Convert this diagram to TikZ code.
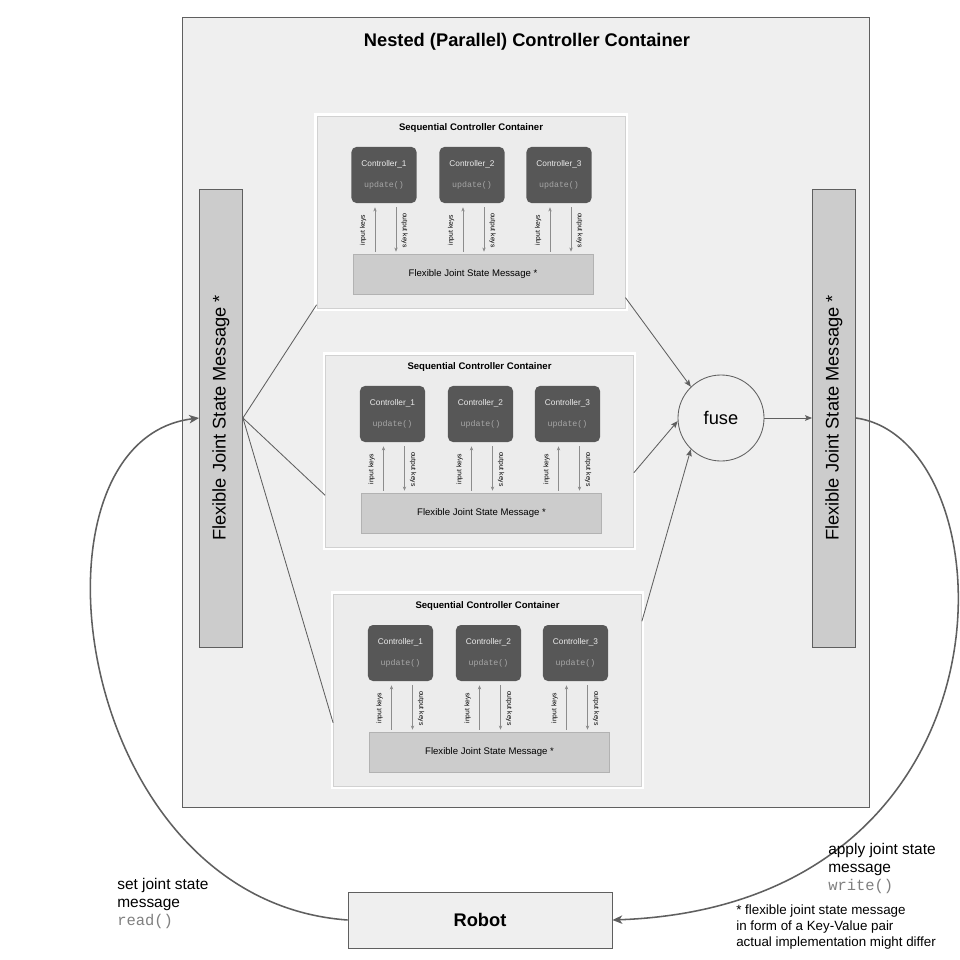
\documentclass[tikz,border=0pt]{standalone}
\usepackage{fontspec}
\setmainfont{Liberation Sans}
\setmonofont{Liberation Mono}
\usetikzlibrary{arrows.meta,calc}

\definecolor{nestgray}{HTML}{EFEFEF}
\definecolor{msggray}{HTML}{CCCCCC}
\definecolor{linegray}{HTML}{5F5F5F}
\definecolor{seqgray}{HTML}{ECECEC}
\definecolor{ctlgray}{HTML}{575757}

\tikzset{
  nestbox/.style={draw=linegray, fill=nestgray, line width=0.6pt, minimum width=17.15cm, minimum height=19.725cm},
  barmsg/.style={draw=linegray, fill=msggray, line width=0.6pt, minimum width=1.075cm, minimum height=11.45cm, inner sep=0pt, font=\fontsize{13}{15}\selectfont},
  seqbox/.style={draw=black!18, fill=seqgray, line width=0.5pt, preaction={draw=white, line width=4pt}, minimum width=7.7cm, minimum height=4.8cm},
  ctlbox/.style={fill=ctlgray, rounded corners=3.5pt, minimum width=1.625cm, minimum height=1.4cm, align=center, text=black!8, font=\fontsize{5.9}{7}\selectfont},
  fjsmbox/.style={draw=black!30, fill=msggray, minimum width=6cm, minimum height=1cm, font=\fontsize{6.8}{8}\selectfont},
  keyline/.style={draw=black!45, line width=0.4pt, -{Stealth[length=3pt,width=2.4pt]}},
  keylbl/.style={font=\fontsize{4.8}{6}\selectfont, inner sep=0pt},
  conn/.style={draw=linegray, line width=0.6pt},
  loopline/.style={draw=linegray, line width=1.1pt},
  lbl/.style={align=left, inner sep=0pt, font=\fontsize{11}{12.8}\selectfont},
  note/.style={align=left, inner sep=0pt, font=\fontsize{9.5}{11.3}\selectfont}
}

\begin{document}
\begin{tikzpicture}[x=0.025cm, y=-0.025cm, >={Stealth[length=5pt,width=4pt,inset=1pt]}]
\useasboundingbox[fill=white] (0,0) rectangle (960,960);
% outer container
\node[nestbox] (nest) at (526,412.5) {};
\node[font=\bfseries\fontsize{13}{15}\selectfont] (nesttitle) at (527,42) {Nested (Parallel) Controller Container};
% joint state messages left and right
\node[barmsg] (lmsg) at (221,418) {\rotatebox{90}{Flexible Joint State Message *}};
\node[barmsg] (rmsg) at (834,418) {\rotatebox{90}{Flexible Joint State Message *}};
\node[draw=linegray, line width=0.6pt, circle, minimum size=2.15cm, font=\fontsize{13}{15}\selectfont] (fuse) at (721,418) {fuse};
% sequential containers
\foreach \s/\dx/\dy in {1/0/0,2/8.5/239,3/16.5/478}{
  \node[seqbox] (seq\s) at (471+\dx,212+\dy) {};
  \node[font=\bfseries\fontsize{6.8}{8}\selectfont] (seqtitle\s) at (471+\dx,128+\dy) {Sequential Controller Container};
  \node[fjsmbox] (fjsm\s) at (473+\dx,274+\dy) {Flexible Joint State Message *};
  \foreach \c/\cx in {1/384,2/472,3/559}{
    \node[ctlbox] (ctl\s\c) at (\cx+\dx,175+\dy) {Controller\_\c\\[8pt]{\color{black!35}\ttfamily update()}};
    \draw[keyline] ($(ctl\s\c.south |- fjsm\s.north)+(-9,-2)$) -- ($(ctl\s\c.south)+(-9,4)$);
    \draw[keyline] ($(ctl\s\c.south)+(12,4)$) -- ($(ctl\s\c.south |- fjsm\s.north)+(12,-2)$);
    \node[keylbl, rotate=90] (inkey\s\c) at ($(ctl\s\c.south)+(-21,27)$) {input keys};
    \node[keylbl, rotate=-90] (outkey\s\c) at ($(ctl\s\c.south)+(20.5,27)$) {output keys};
  }
}
% fan out and fuse
\draw[conn] (lmsg.east) -- (seq1.211);
\draw[conn] (lmsg.east) -- (seq2.196);
\draw[conn] (lmsg.east) -- (seq3.192);
\draw[conn,->] (seq1.331) -- (fuse.134);
\draw[conn,->] (seq2.352) -- (fuse.184);
\draw[conn,->] (seq3.24) -- (fuse.226);
\draw[conn,->] (fuse) -- (rmsg);
% robot loop
\node[draw=linegray, line width=0.6pt, fill=nestgray, minimum width=6.6cm, minimum height=1.4cm, font=\bfseries\fontsize{13}{15}\selectfont] (robot) at (480,920) {Robot};
\draw[loopline,->,>={Stealth[length=7pt,width=6pt,inset=2pt]}] (rmsg.east) .. controls (1012,440) and (1030,905) .. (robot.east);
\draw[loopline,->,>={Stealth[length=7pt,width=6pt,inset=2pt]}] (robot.west) .. controls (70,900) and (15,440) .. (lmsg.west);
\node[lbl, anchor=north west] (readlbl) at (117,878) {set joint state\\message\\{\ttfamily\color{black!50}read()}};
\node[lbl, anchor=north west] (writelbl) at (828,843) {apply joint state\\message\\{\ttfamily\color{black!50}write()}};
\node[note, anchor=north west] (footnote) at (736,905) {* flexible joint state message\\in form of a Key-Value pair\\actual implementation might differ};
\end{tikzpicture}
\end{document}
